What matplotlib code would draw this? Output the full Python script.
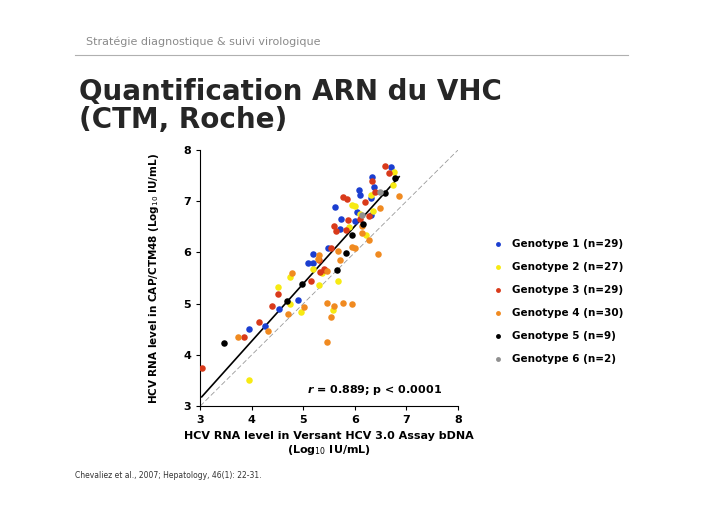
import numpy as np
import matplotlib.pyplot as plt

g1_x = [6.71,6.34,6.37,6.08,6.11,5.62,5.74,6.05,6.31,5.72,5.18,5.10,5.18,5.48,4.89,4.52,4.26,3.94,6.32,6.01]
g1_y = [7.66,7.48,7.28,7.23,7.13,6.88,6.66,6.79,6.74,6.45,5.97,5.79,5.79,6.08,5.08,4.90,4.57,4.50,7.06,6.61]
g2_x = [6.76,6.74,6.32,5.94,6.01,6.35,5.88,6.21,5.18,5.36,4.75,4.51,4.75,4.96,5.30,5.67,5.57,3.94,6.11]
g2_y = [7.58,7.32,7.13,6.92,6.90,6.81,6.50,6.35,5.68,5.59,5.53,5.32,5.00,4.83,5.37,5.44,4.87,3.50,6.75]
g3_x = [6.58,6.66,6.34,5.77,5.85,6.19,5.87,6.27,5.59,5.64,5.82,5.53,5.31,5.40,5.33,5.43,5.14,4.51,4.40,4.14,3.85,3.03,6.40,6.11]
g3_y = [7.68,7.55,7.40,7.08,7.05,6.99,6.63,6.71,6.52,6.41,6.43,6.08,5.86,5.68,5.61,5.65,5.45,5.18,4.95,4.64,4.34,3.75,7.18,6.66]
g4_x = [6.86,6.48,6.27,6.14,5.95,6.01,5.72,5.68,5.30,5.29,5.46,4.79,5.01,4.70,5.46,5.60,5.77,5.94,5.53,5.46,6.44,4.31,3.74,6.14]
g4_y = [7.10,6.87,6.24,6.39,6.11,6.08,5.86,6.03,5.95,5.87,5.63,5.60,4.94,4.79,5.01,4.95,5.01,5.00,4.74,4.26,5.98,4.47,4.35,6.52]
g5_x = [6.77,6.58,6.16,5.95,5.82,5.66,4.97,4.69,3.46]
g5_y = [7.46,7.16,6.56,6.34,5.99,5.66,5.39,5.06,4.23]
g6_x = [6.48,6.13]
g6_y = [7.19,6.73]

fit_x = [3.03, 6.86]
fit_y = [3.18, 7.48]

labels = ['Genotype 1 (n=29)', 'Genotype 2 (n=27)', 'Genotype 3 (n=29)',
          'Genotype 4 (n=30)', 'Genotype 5 (n=9)', 'Genotype 6 (n=2)']
colors = ['#1b3ed0', '#f7ea12', '#d93a1a', '#f08a20', '#000000', '#909090']

fig = plt.figure(figsize=(7.28, 5.14), dpi=100)

fig.text(0.118, 0.912, 'Stratégie diagnostique & suivi virologique', fontsize=8, color='#8a8a8a')
fig.add_artist(plt.Line2D([0.103, 0.863], [0.893, 0.893], color='#b0b0b0', lw=0.8))
fig.text(0.108, 0.75, 'Quantification ARN du VHC\n(CTM, Roche)', fontsize=20, fontweight='bold',
         color='#262626', family='DejaVu Sans', linespacing=1.0)
fig.text(0.103, 0.07, 'Chevaliez et al., 2007; Hepatology, 46(1): 22-31.', fontsize=5.5, color='#333333')

ax = fig.add_axes([0.275, 0.210, 0.354, 0.498])
ax.plot([3, 8], [3, 8], color='#999999', lw=0.6, ls=(0, (6, 3)))
ax.plot(fit_x, fit_y, color='black', lw=1.2)
xs = [g1_x, g2_x, g3_x, g4_x, g5_x, g6_x]
ys = [g1_y, g2_y, g3_y, g4_y, g5_y, g6_y]
for x, y, c, lab in zip(xs, ys, colors, labels):
    ax.scatter(x, y, s=22, color=c, label=lab, zorder=3, linewidths=0)
ax.set_xlim(3, 8)
ax.set_ylim(3, 8)
ax.spines['top'].set_visible(False)
ax.spines['right'].set_visible(False)
ax.tick_params(labelsize=8, length=3)
for t in ax.get_xticklabels() + ax.get_yticklabels():
    t.set_fontweight('bold')
ax.text(7.7, 3.25, '$\\mathbfit{r}$ = 0.889; p < 0.0001', fontsize=8, fontweight='bold', ha='right')
ax.set_xlabel('HCV RNA level in Versant HCV 3.0 Assay bDNA\n(Log$_{10}$ IU/mL)', fontsize=8, fontweight='bold')
ax.set_ylabel('HCV RNA level in CAP/CTM48 (Log$_{10}$ IU/mL)', fontsize=7.5, fontweight='bold', labelpad=16)

leg = ax.legend(loc='upper left', bbox_to_anchor=(1.08, 0.69), frameon=False, prop={'size': 7.5, 'weight': 'bold'},
                handletextpad=0.3, labelspacing=1.25, markerscale=0.75)

fig.savefig('out.png', dpi=100)
